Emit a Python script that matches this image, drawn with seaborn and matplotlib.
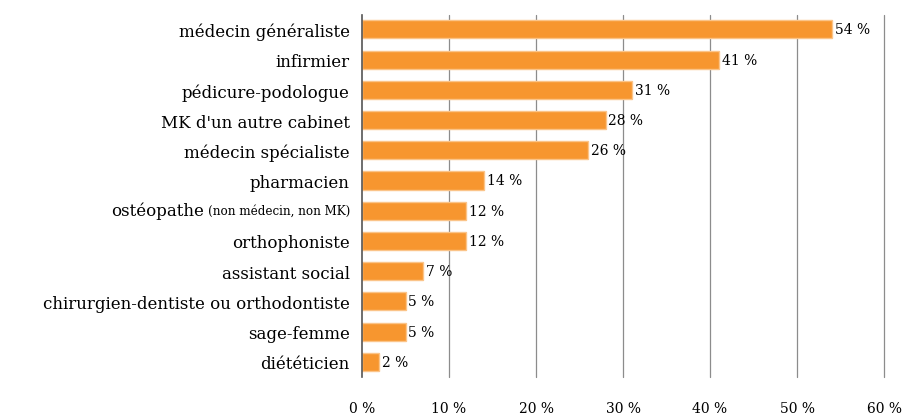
import matplotlib
matplotlib.use("Agg")
import matplotlib.pyplot as plt
import matplotlib.transforms as mt
import seaborn as sns
import pandas as pd

categories = ["médecin généraliste", "infirmier", "pédicure-podologue", "MK d'un autre cabinet",
              "médecin spécialiste", "pharmacien", "ostéopathe", "orthophoniste",
              "assistant social", "chirurgien-dentiste ou orthodontiste", "sage-femme", "diététicien"]
values = [54, 41, 31, 28, 26, 14, 12, 12, 7, 5, 5, 2]
xticks = [0, 10, 20, 30, 40, 50, 60]
xtick_labels = ["0 %", "10 %", "20 %", "30 %", "40 %", "50 %", "60 %"]
sub_note = "(non médecin, non MK)"

sns.set_style("white")
plt.rcParams["font.family"] = ["DejaVu Serif"]
plt.rcParams["text.color"] = "black"
plt.rcParams["xtick.color"] = "black"
plt.rcParams["ytick.color"] = "black"

df = pd.DataFrame({"cat": categories, "val": values})
fig = plt.figure(figsize=(9.03, 4.14), dpi=100)
ax = fig.add_axes([0.4009, 0.087, 0.5781, 0.874])
sns.barplot(data=df, x="val", y="cat", orient="h", color="#F7962F", saturation=1,
            width=0.6, edgecolor="#FBC489", linewidth=1, ax=ax, zorder=3)
ax.set_xlim(0, 60)
ax.set_ylim(11.5, -0.47)
ax.set_xticks(xticks)
ax.set_xticklabels(xtick_labels, fontsize=10, color="black")
ax.tick_params(axis="x", length=0, pad=17)
ax.tick_params(axis="y", length=0, pad=9)
ax.set_xlabel("")
ax.set_ylabel("")
ylabels = [c if c != "ostéopathe" else "" for c in categories]
ax.set_yticklabels(ylabels, fontsize=12, color="black")
for x in xticks[1:]:
    ax.axvline(x, color="#8c8c8c", lw=0.9, zorder=1, clip_on=False)
for s in ["top", "right", "bottom"]:
    ax.spines[s].set_visible(False)
ax.spines["left"].set_color("#555555")
ax.spines["left"].set_linewidth(1.2)
ax.spines["left"].set_zorder(4)

ax.bar_label(ax.containers[0], labels=[f"{v} %" for v in values], padding=2, fontsize=10, color="black")

# composite label for ostéopathe
idx = categories.index("ostéopathe")
trans = mt.blended_transform_factory(ax.transAxes, ax.transData)
t_small = ax.annotate(sub_note, xy=(0, idx), xycoords=trans, xytext=(-12, 0), textcoords="offset pixels",
                      ha="right", va="center", fontsize=8.6, color="black")
fig.canvas.draw()
r = fig.canvas.get_renderer()
w = t_small.get_window_extent(r).width
ax.annotate("ostéopathe", xy=(0, idx), xycoords=trans, xytext=(-12 - w - 4, 0), textcoords="offset pixels",
            ha="right", va="center", fontsize=12, color="black")

fig.savefig("out.png", dpi=100)
